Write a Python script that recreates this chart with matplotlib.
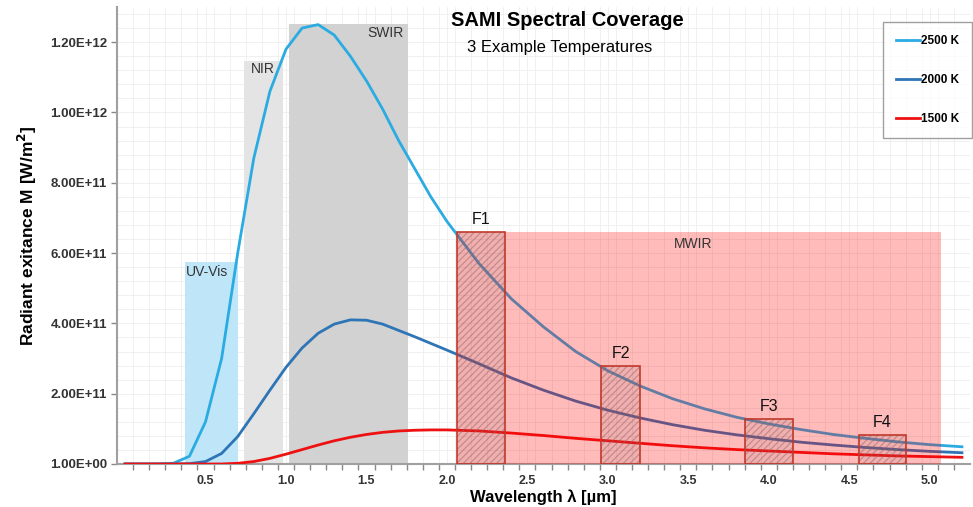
import matplotlib
matplotlib.use('Agg')
import matplotlib.pyplot as plt
from matplotlib.patches import Rectangle
from matplotlib.lines import Line2D
from matplotlib.ticker import FixedLocator, FuncFormatter

plt.rcParams['font.family'] = ['Liberation Sans', 'DejaVu Sans']

# wavelength [um]
wl = [0.0, 0.1, 0.2, 0.3, 0.4, 0.5, 0.6, 0.7, 0.8, 0.9, 1.0,
      1.1, 1.2, 1.3, 1.4, 1.5, 1.6, 1.7, 1.8, 1.9, 2.0,
      2.2, 2.4, 2.6, 2.8, 3.0, 3.2, 3.4, 3.6, 3.8, 4.0,
      4.2, 4.4, 4.6, 4.8, 5.0, 5.2]

# radiant exitance, in units of 1e11 W/m^2
m2500 = [0, 0, 0, 0.02, 0.22, 1.2, 3.0, 6.0, 8.7, 10.6, 11.8,
         12.4, 12.5, 12.2, 11.6, 10.9, 10.1, 9.2, 8.4, 7.6, 6.9,
         5.7, 4.7, 3.9, 3.2, 2.65, 2.22, 1.86, 1.57, 1.33, 1.14,
         0.98, 0.84, 0.73, 0.63, 0.55, 0.49]
m2000 = [0, 0, 0, 0, 0.01, 0.07, 0.3, 0.78, 1.43, 2.1, 2.75,
         3.3, 3.72, 3.98, 4.1, 4.09, 3.98, 3.8, 3.62, 3.43, 3.24,
         2.85, 2.45, 2.1, 1.79, 1.53, 1.31, 1.12, 0.96, 0.83, 0.72,
         0.62, 0.54, 0.47, 0.41, 0.36, 0.32]
m1500 = [0, 0, 0, 0, 0, 0, 0, 0.02, 0.07, 0.16, 0.28,
         0.41, 0.54, 0.66, 0.76, 0.84, 0.9, 0.94, 0.96, 0.97, 0.97,
         0.94, 0.88, 0.81, 0.73, 0.66, 0.59, 0.52, 0.46, 0.41, 0.37,
         0.33, 0.29, 0.26, 0.23, 0.21, 0.19]

series = [('2500 K', m2500, '#2aabe2'),
          ('2000 K', m2000, '#2e75b6'),
          ('1500 K', m1500, '#ee1111')]

# spectral bands
band_names = ['UV-Vis', 'NIR', 'SWIR', 'MWIR']
band_lo = [0.37, 0.74, 1.02, 2.06]
band_hi = [0.70, 0.98, 1.76, 5.07]
band_top = [5.75e11, 1.147e12, 1.252e12, 6.6e11]
band_col = ['#bee6f8', '#e4e4e4', '#d2d2d2', None]

# filters
filt_names = ['F1', 'F2', 'F3', 'F4']
filt_lo = [2.06, 2.96, 3.85, 4.56]
filt_hi = [2.36, 3.20, 4.15, 4.85]
filt_top = [6.6e11, 2.79e11, 1.28e11, 0.83e11]

fig = plt.figure(figsize=(9.73, 5.07), dpi=100)
ax = fig.add_axes([117/973, 43/507, 853/973, 457/507])

# grey / blue bands behind the curves
for i in range(3):
    ax.add_patch(Rectangle((band_lo[i], 0), band_hi[i]-band_lo[i], band_top[i],
                           facecolor=band_col[i], edgecolor='none', zorder=1))

for name, m, c in series:
    ax.plot(wl, [v*1e11 for v in m], color=c, lw=2.0, zorder=3, solid_joinstyle='round')

# MWIR band is a transparent overlay on top of the curves
ax.add_patch(Rectangle((band_lo[3], 0), band_hi[3]-band_lo[3], band_top[3],
                       facecolor='#ff0000', alpha=0.27, edgecolor='none', zorder=4))

plt.rcParams['hatch.linewidth'] = 0.9
for i in range(4):
    w = filt_hi[i] - filt_lo[i]
    ax.add_patch(Rectangle((filt_lo[i], 0), w, filt_top[i], facecolor=(0.55, 0.4, 0.4, 0.12),
                           edgecolor=(0.55, 0.38, 0.38, 0.45), hatch='/////', lw=0, zorder=5))
    ax.add_patch(Rectangle((filt_lo[i], 0), w, filt_top[i], facecolor='none',
                           edgecolor='#c0392b', lw=1.2, zorder=6))
    ax.text((filt_lo[i]+filt_hi[i])/2, filt_top[i]+0.15e11, filt_names[i],
            ha='center', va='bottom', fontsize=11.5, color='#111111', zorder=7)

ax.text(band_lo[0]+0.01, band_top[0]-0.08e11, 'UV-Vis', ha='left', va='top', fontsize=10, color='#333333', zorder=7)
ax.text(band_lo[1]+0.04, band_top[1]-0.04e11, 'NIR', ha='left', va='top', fontsize=10, color='#333333', zorder=7)
ax.text(band_hi[2]-0.03, band_top[2]-0.06e11, 'SWIR', ha='right', va='top', fontsize=10, color='#333333', zorder=7)
ax.text(3.53, 6.26e11, 'MWIR', ha='center', va='center', fontsize=10, color='#333333', zorder=7)

ax.set_xlim(-0.05, 5.25)
ax.set_ylim(1, 1.3e12)

ax.xaxis.set_major_locator(FixedLocator([0.5, 1.0, 1.5, 2.0, 2.5, 3.0, 3.5, 4.0, 4.5, 5.0]))
ax.xaxis.set_major_formatter(FuncFormatter(lambda v, p: '%.1f' % v))
ax.xaxis.set_minor_locator(FixedLocator([0.05 + 0.1*k for k in range(52)]))
ax.yaxis.set_major_locator(FixedLocator([1, 2e11, 4e11, 6e11, 8e11, 1e12, 1.2e12]))
ax.yaxis.set_major_formatter(FuncFormatter(lambda v, p: '%.2E' % v))
ax.yaxis.set_minor_locator(FixedLocator([0.4e11*k for k in range(1, 33)]))

ax.tick_params(axis='x', which='major', length=0, pad=8, labelsize=9, labelcolor='#333333')
ax.tick_params(axis='x', which='minor', length=4, width=1, color='#888888', direction='out')
ax.tick_params(axis='y', which='major', length=4, width=1, color='#888888', pad=3,
               labelsize=9.5, labelcolor='#333333')
ax.tick_params(axis='y', which='minor', length=0)
for lab in ax.get_xticklabels() + ax.get_yticklabels():
    lab.set_fontweight('bold')

ax.grid(which='both', color='#eeeeee', lw=0.6, zorder=0)
ax.set_axisbelow(True)

for s in ['top', 'right']:
    ax.spines[s].set_visible(False)
for s in ['left', 'bottom']:
    ax.spines[s].set_color('#a0a0a0')
    ax.spines[s].set_linewidth(1.5)

ax.set_xlabel('Wavelength λ [µm]', fontsize=12, fontweight='bold', labelpad=2)
ax.set_ylabel('Radiant exitance M [W/m$^{\\mathbf{2}}$]', fontsize=12.5, fontweight='bold', labelpad=8)

fig.text(0.583, 0.96, 'SAMI Spectral Coverage', ha='center', va='center', fontsize=14.5, fontweight='bold')
fig.text(0.575, 0.907, '3 Example Temperatures', ha='center', va='center', fontsize=12)

handles = [Line2D([], [], color=c, lw=2.0) for _, _, c in series]
leg = fig.legend(handles, [n for n, _, _ in series], loc='upper right',
                 bbox_to_anchor=(972/973, 1-22/507), frameon=True, fancybox=False,
                 prop={'weight': 'bold', 'size': 8.5}, labelspacing=2.3, handlelength=2.0,
                 handletextpad=0.1, borderpad=1.1, borderaxespad=0)
leg.get_frame().set_edgecolor('#888888')
leg.get_frame().set_linewidth(1.0)

fig.savefig('out.png', dpi=100)
